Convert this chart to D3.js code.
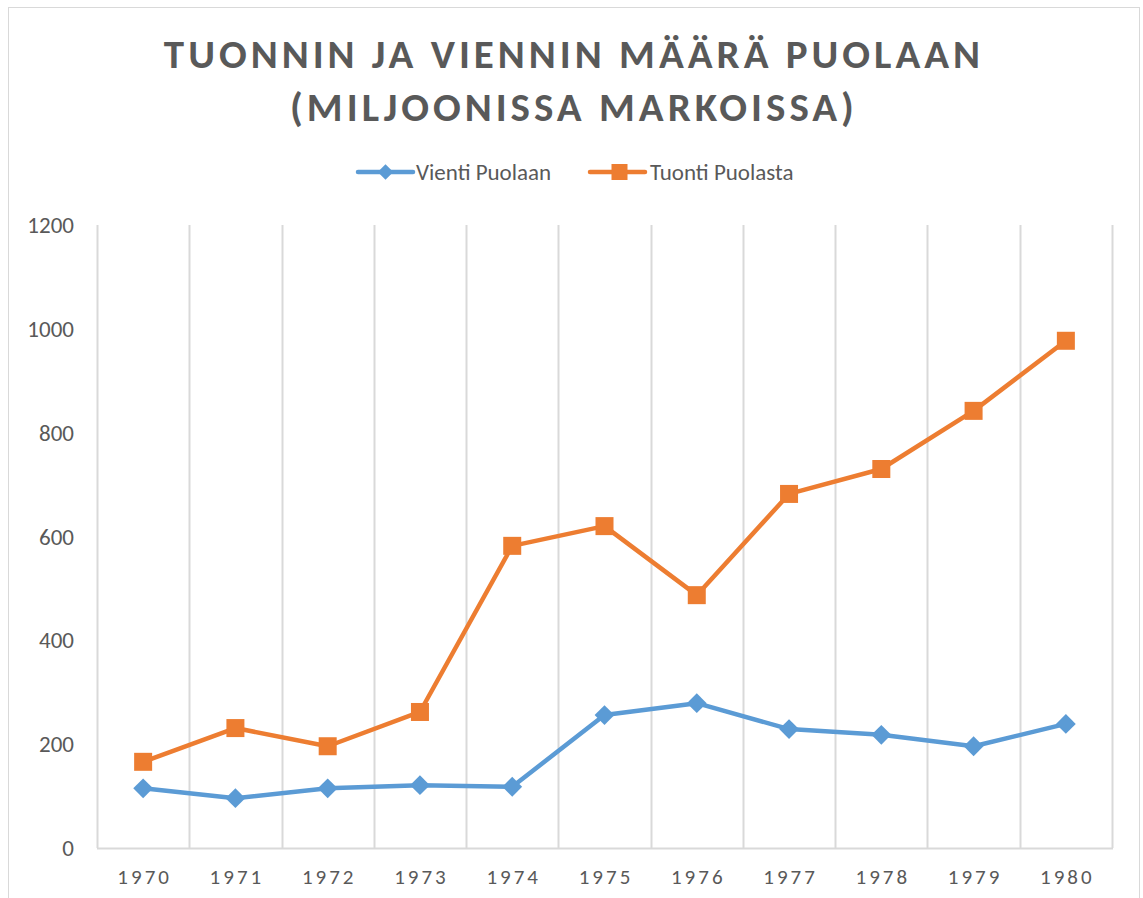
<!DOCTYPE html>
<html>
<head>
<meta charset="utf-8">
<script src="https://cdn.jsdelivr.net/npm/d3@7"></script>
<style>
body { margin:0; background:#fff; }
svg text { font-family: Carlito, Calibri, "Open Sans", "Noto Sans", sans-serif; fill:#595959; }
</style>
</head>
<body>
<div id="chart_place"></div>
<script>
var years = ["1970","1971","1972","1973","1974","1975","1976","1977","1978","1979","1980"];
var vienti = [115, 96, 115, 121, 118, 256, 279, 229, 218, 196, 239];
var tuonti = [166, 231, 196, 262, 582, 620, 487, 682, 730, 842, 977];
var yTicks = [0, 200, 400, 600, 800, 1000, 1200];
var titleLines = ["TUONNIN JA VIENNIN MÄÄRÄ PUOLAAN", "(MILJOONISSA MARKOISSA)"];
var seriesNames = ["Vienti Puolaan", "Tuonti Puolasta"];

var W = 1143, H = 898;
var svg = d3.select("#chart_place").append("svg").attr("width", W).attr("height", H);

// chart frame
svg.append("rect").attr("x", 8.5).attr("y", 7.5).attr("width", 1131).attr("height", 900)
  .attr("fill", "none").attr("stroke", "#d9d9d9");

var x = d3.scaleBand().domain(years).range([97, 1112]);
var y = d3.scaleLinear().domain([0, 1200]).range([848, 225]);

// vertical gridlines
var gridX = years.map(function(d){ return x(d); }).concat([x.range()[1]]);
svg.selectAll(".vgrid").data(gridX).enter().append("line")
  .attr("x1", function(d){ return Math.round(d) + 0.5; })
  .attr("x2", function(d){ return Math.round(d) + 0.5; })
  .attr("y1", y(1200)).attr("y2", y(0))
  .attr("stroke", "#d9d9d9").attr("stroke-width", 2);

svg.append("line").attr("x1", 97).attr("x2", 1113).attr("y1", y(0) + 0.5).attr("y2", y(0) + 0.5)
  .attr("stroke", "#d9d9d9").attr("stroke-width", 2);

// y labels
svg.selectAll(".ylab").data(yTicks).enter().append("text")
  .attr("x", 74).attr("y", function(d){ return y(d) + 8; })
  .attr("text-anchor", "end").style("font-size", "23px")
  .text(function(d){ return d; });

// x labels
svg.selectAll(".xlab").data(years).enter().append("text")
  .attr("x", function(d){ return x(d) + x.bandwidth() / 2 + 1.5; })
  .attr("y", 884).attr("text-anchor", "middle")
  .style("font-size", "21px").style("letter-spacing", "3px")
  .text(function(d){ return d; });

// title
svg.selectAll(".title").data(titleLines).enter().append("text")
  .attr("x", 574).attr("y", function(d, i){ return 68 + i * 53; })
  .attr("text-anchor", "middle")
  .style("font-size", "41px").style("font-weight", "bold").style("letter-spacing", "4px")
  .text(function(d){ return d; });

var colors = ["#5b9bd5", "#ed7d31"];
var data = [vienti, tuonti];

var line = d3.line()
  .x(function(d, i){ return x(years[i]) + x.bandwidth() / 2; })
  .y(function(d){ return y(d); });

data.forEach(function(s, k){
  svg.append("path").datum(s).attr("d", line)
    .attr("fill", "none").attr("stroke", colors[k]).attr("stroke-width", 4.5)
    .attr("stroke-linejoin", "round");
});

function drawMarker(g, k, cx, cy){
  if (k === 0) {
    g.append("rect").attr("x", cx - 7).attr("y", cy - 7).attr("width", 14).attr("height", 14)
      .attr("transform", "rotate(45," + cx + "," + cy + ")")
      .attr("fill", colors[0]);
  } else {
    g.append("rect").attr("x", cx - 9).attr("y", cy - 9).attr("width", 18).attr("height", 18)
      .attr("fill", colors[1]);
  }
}

data.forEach(function(s, k){
  var g = svg.append("g");
  s.forEach(function(v, i){
    drawMarker(g, k, x(years[i]) + x.bandwidth() / 2, y(v));
  });
});

// legend
var legendX = [358, 590];
seriesNames.forEach(function(n, k){
  var g = svg.append("g");
  g.append("line").attr("x1", legendX[k]).attr("x2", legendX[k] + 55)
    .attr("y1", 172).attr("y2", 172).attr("stroke", colors[k]).attr("stroke-width", 4.5)
    .attr("stroke-linecap", "round");
  if (k === 0) {
    g.append("rect").attr("x", legendX[k] + 27.5 - 5.5).attr("y", 172 - 5.5).attr("width", 11).attr("height", 11)
      .attr("transform", "rotate(45," + (legendX[k] + 27.5) + ",172)").attr("fill", colors[0]);
  } else {
    g.append("rect").attr("x", legendX[k] + 29.5 - 8).attr("y", 164).attr("width", 16).attr("height", 16)
      .attr("fill", colors[1]);
  }
  g.append("text").attr("x", legendX[k] + 58 + k * 2).attr("y", 180).style("font-size", "23px").text(n);
});
</script>
</body>
</html>
